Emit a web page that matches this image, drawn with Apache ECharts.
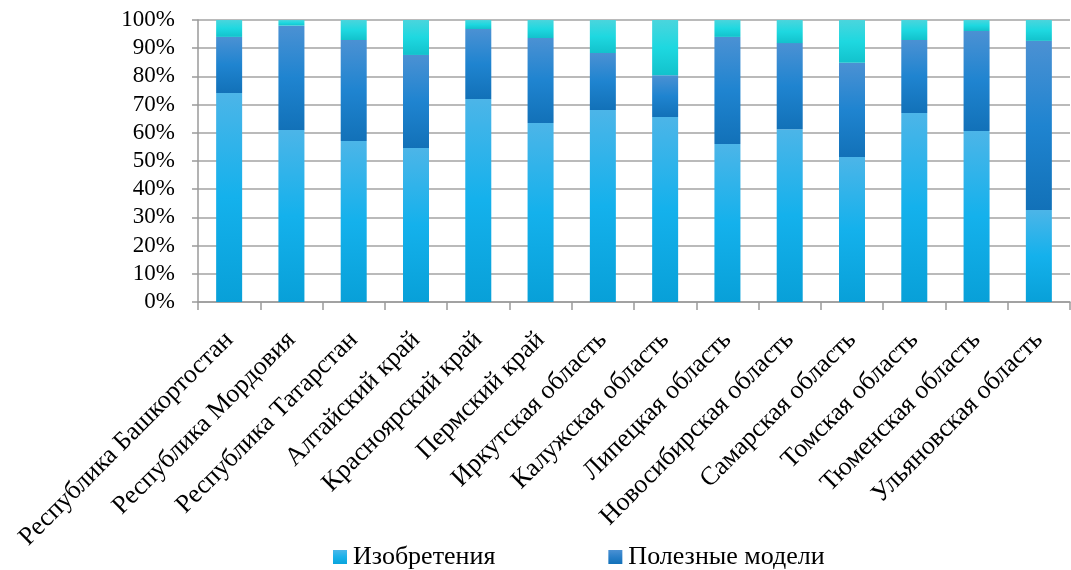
<!DOCTYPE html>
<html>
<head>
<meta charset="utf-8">
<script src="https://cdn.jsdelivr.net/npm/echarts@6/dist/echarts.min.js"></script>
<style>
  html, body { margin: 0; padding: 0; background: #fff; }
  #chart { width: 1071px; height: 570px; }
</style>
</head>
<body>
<div id="chart"></div>
<script>
// Regions shown along the category axis
const regions = [
  'Республика Башкортостан', 'Республика Мордовия', 'Республика Татарстан',
  'Алтайский край', 'Красноярский край', 'Пермский край', 'Иркутская область',
  'Калужская область', 'Липецкая область', 'Новосибирская область',
  'Самарская область', 'Томская область', 'Тюменская область', 'Ульяновская область'
];

// Shares of each kind of application, %
const inventions    = [74.1, 61.0, 57.1, 54.6, 72.0, 63.5, 68.1, 65.6, 56.0, 61.3, 51.4, 67.0, 60.6, 32.6];
const utilityModels = [19.9, 37.0, 35.8, 33.0, 24.8, 30.1, 20.2, 14.8, 38.0, 30.5, 33.4, 25.9, 35.5, 60.0];
const designs       = [6.0, 2.0, 7.1, 12.4, 3.2, 6.4, 11.7, 19.6, 6.0, 8.2, 15.2, 7.1, 3.9, 7.4];

const yTicks = [0, 10, 20, 30, 40, 50, 60, 70, 80, 90, 100];

const FONT = '"Liberation Serif", "Times New Roman", serif';

function grad(top, mid, bottom) {
  return new echarts.graphic.LinearGradient(0, 0, 0, 1, [
    { offset: 0, color: top },
    { offset: 0.5, color: mid },
    { offset: 1, color: bottom }
  ]);
}

const chart = echarts.init(document.getElementById('chart'), null, { renderer: 'canvas' });

const seriesDefs = [
  { name: 'Изобретения', data: inventions, color: grad('#4cb5e8', '#14b1ec', '#08a0d8') },
  { name: 'Полезные модели', data: utilityModels, color: grad('#4b91d3', '#1f84d0', '#1271b8') },
  { name: 'Промышленные образцы', data: designs, color: grad('#4ad5dd', '#1ed8e0', '#12c2cc') }
];

chart.setOption({
  animation: false,
  backgroundColor: '#ffffff',
  textStyle: { fontFamily: FONT },
  grid: { left: 198, right: 1, top: 20, bottom: 268, containLabel: false },
  legend: {
    data: [
      { name: 'Изобретения', itemStyle: { color: grad('#4cb8ea', '#1ab2ea', '#0aa4dc') } },
      { name: 'Полезные модели', itemStyle: { color: grad('#4b91d3', '#2a7fc8', '#1271b8') } }
    ],
    left: 328,
    top: 539,
    itemWidth: 14,
    itemHeight: 14,
    itemGap: 113,
    icon: 'rect',
    textStyle: { fontFamily: FONT, fontSize: 26, color: '#000', padding: [0, 0, 0, 1] }
  },
  xAxis: {
    type: 'category',
    data: regions,
    axisLine: { lineStyle: { color: '#9a9a9a', width: 1.5 } },
    axisTick: { show: true, length: 8, lineStyle: { color: '#9a9a9a', width: 1.5 } },
    axisLabel: {
      rotate: 45,
      interval: 0,
      margin: 34,
      align: 'right',
      verticalAlign: 'middle',
      fontFamily: FONT,
      fontSize: 26,
      color: '#000'
    }
  },
  yAxis: {
    type: 'value',
    min: 0,
    max: 100,
    interval: 10,
    axisLine: { show: true, lineStyle: { color: '#9a9a9a', width: 1.5 } },
    axisTick: { show: true, length: 6, lineStyle: { color: '#9a9a9a', width: 1.5 } },
    splitLine: { show: true, lineStyle: { color: '#a3a3a3', width: 1.5 } },
    axisLabel: {
      margin: 23,
      fontFamily: FONT,
      fontSize: 23,
      color: '#000',
      formatter: v => (yTicks.includes(v) ? v + '%' : '')
    }
  },
  series: seriesDefs.map(s => ({
    name: s.name,
    type: 'bar',
    stack: 'total',
    barWidth: 26,
    data: s.data,
    itemStyle: { color: s.color },
    emphasis: { disabled: true }
  }))
});
</script>
</body>
</html>
